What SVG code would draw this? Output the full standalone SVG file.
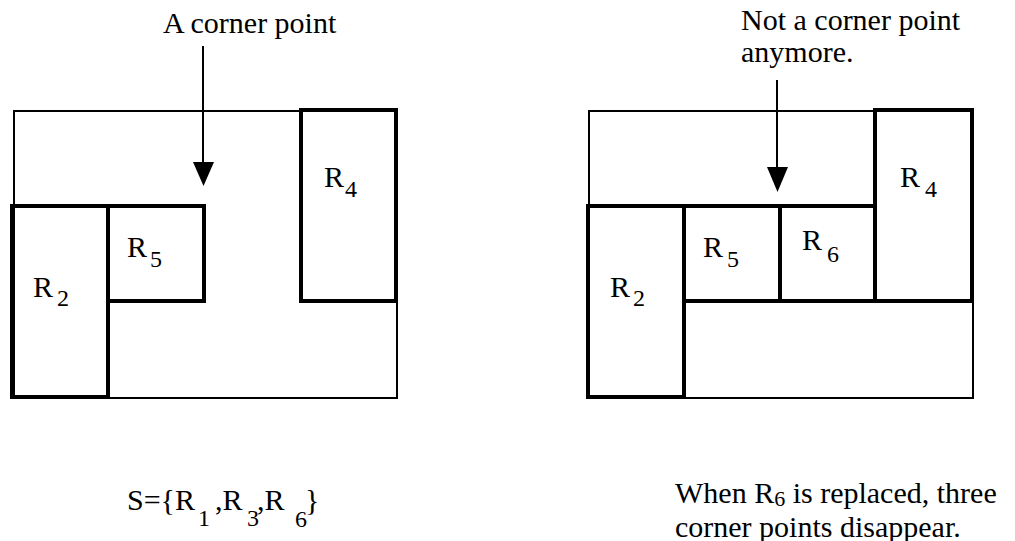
<svg xmlns="http://www.w3.org/2000/svg" width="1015" height="541" viewBox="0 0 1015 541">
<style>
.thin{fill:none;stroke:#000;stroke-width:2}
.thick{fill:none;stroke:#000;stroke-width:4}
.t{font-family:"Liberation Serif","Times New Roman","DejaVu Serif",serif;font-size:30px;fill:#000}
.s{font-size:24px}
.ln{stroke:#000;stroke-width:2;fill:none}
</style>
<rect width="1015" height="541" fill="#fff"/>

<g id="left-diagram">
<rect id="L-outer" class="thin" x="14" y="111" width="383" height="287"/>
<g id="L-R2"><rect class="thick" x="12" y="206" width="96" height="191"/><text class="t" x="33" y="297">R<tspan class="s" x="57" y="306">2</tspan></text></g>
<g id="L-R5"><rect class="thick" x="108" y="206" width="96" height="95"/><text class="t" x="127" y="257">R<tspan class="s" x="150" y="267">5</tspan></text></g>
<g id="L-R4"><rect class="thick" x="301" y="110" width="95" height="191"/><text class="t" x="324" y="187">R<tspan class="s" x="345" y="197">4</tspan></text></g>
<text id="L-label" class="t" x="163" y="33">A corner point</text>
</g>

<g id="right-diagram">
<rect id="R-outer" class="thin" x="589" y="111" width="384" height="287"/>
<g id="R-R2"><rect class="thick" x="588" y="206" width="96" height="191"/><text class="t" x="610" y="297">R<tspan class="s" x="633" y="306">2</tspan></text></g>
<g id="R-R5"><rect class="thick" x="684" y="206" width="96" height="95"/><text class="t" x="703" y="257">R<tspan class="s" x="727" y="267">5</tspan></text></g>
<g id="R-R6"><rect class="thick" x="780" y="206" width="95" height="95"/><text class="t" x="802" y="250">R<tspan class="s" x="827" y="262">6</tspan></text></g>
<g id="R-R4"><rect class="thick" x="875" y="110" width="97" height="191"/><text class="t" x="900" y="187">R<tspan class="s" x="925" y="197">4</tspan></text></g>
<text id="R-label" class="t" x="741" y="30">Not a corner point<tspan x="741" y="62">anymore.</tspan></text>
</g>

<g id="connectors">
<path class="ln" d="M203,46 V162"/>
<path d="M193,162 L214,162 L203.5,186 Z" fill="#000"/>
<path class="ln" d="M777,80 V167"/>
<path d="M767,167 L788,167 L777.5,192 Z" fill="#000"/>
</g>

<g id="caption-left">
<text class="t" x="127" y="510">S={R<tspan class="s" x="198" y="526">1</tspan><tspan x="215" y="510">,R</tspan><tspan class="s" x="247" y="526">3</tspan><tspan x="257" y="510">,R</tspan><tspan class="s" x="295" y="527">6</tspan><tspan x="305" y="510">}</tspan></text>
</g>

<g id="caption-right">
<text class="t" x="675" y="503">When R<tspan style="font-size:22px" dy="3">6</tspan><tspan dy="-3"> is replaced, three</tspan><tspan x="675" y="537">corner points disappear.</tspan></text>
</g>
</svg>
